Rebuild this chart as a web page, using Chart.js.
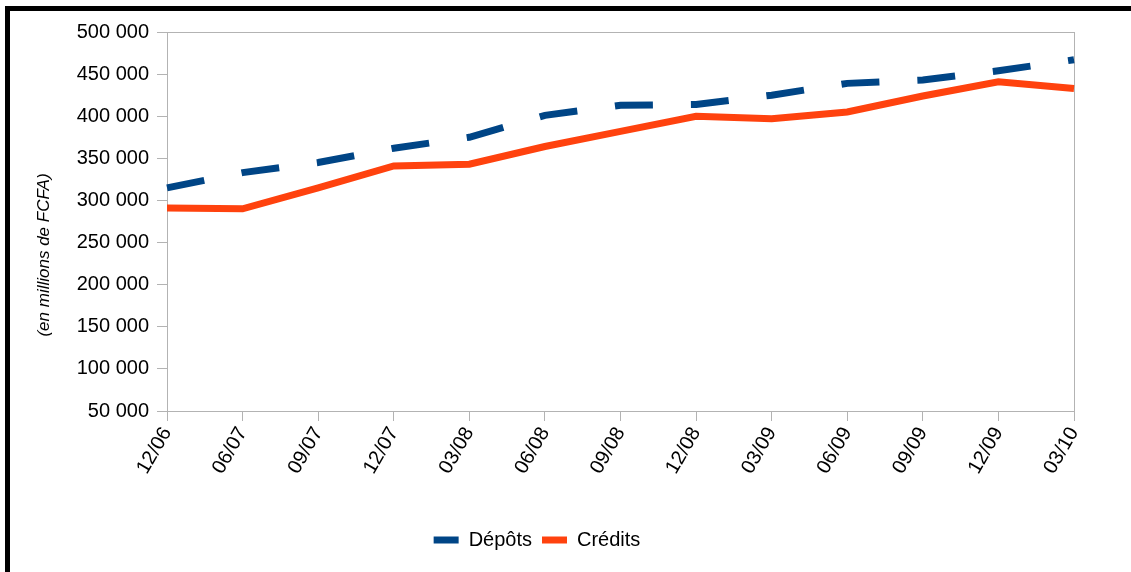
<!DOCTYPE html>
<html>
<head>
<meta charset="utf-8">
<script src="https://cdn.jsdelivr.net/npm/chart.js@4"></script>
<style>
  html, body { margin: 0; padding: 0; background: #fff; }
  #wrap { position: relative; width: 1131px; height: 572px; overflow: hidden; }
  #frame { position: absolute; left: 5px; top: 6px; right: 0; bottom: 0; border-left: 5px solid #000; border-top: 5px solid #000; pointer-events: none; }
</style>
</head>
<body>
<div id="wrap">
  <canvas id="graph" width="1131" height="572"></canvas>
  <div id="frame"></div>
</div>
<script>
const periodes = ['12/06', '06/07', '09/07', '12/07', '03/08', '06/08', '09/08', '12/08', '03/09', '06/09', '09/09', '12/09', '03/10'];
const depots = [315000, 333000, 345000, 362000, 375000, 401000, 413000, 414000, 425000, 439000, 443000, 454000, 467000];
const credits = [291000, 290000, 315000, 341000, 343000, 364000, 382000, 400000, 397000, 405000, 424000, 441000, 433000];
const yMin = 50000;
const yMax = 500000;
const yStep = 50000;
const yTitre = '(en millions de FCFA)';

const FONT = "'Liberation Sans', Arial, sans-serif";
const GRIS = '#b3b3b3';

function milliers(v) {
  return String(v).replace(/\B(?=(\d{3})+(?!\d))/g, ' ');
}

// titre de l'axe Y, un peu plus bas que le centre comme dans l'original
const titreY = {
  id: 'titreY',
  afterDraw(chart) {
    const ctx = chart.ctx;
    ctx.save();
    ctx.translate(44, 255);
    ctx.rotate(-Math.PI / 2);
    ctx.font = 'italic 17px ' + FONT;
    ctx.fillStyle = '#000';
    ctx.textAlign = 'center';
    ctx.textBaseline = 'middle';
    ctx.fillText(yTitre, 0, 0);
    ctx.restore();
  }
};

new Chart(document.getElementById('graph'), {
  type: 'line',
  data: {
    labels: periodes,
    datasets: [
      {
        label: 'Dépôts',
        data: depots,
        borderColor: '#004586',
        backgroundColor: '#004586',
        borderWidth: 7,
        borderDash: [38, 38],
        borderCapStyle: 'butt',
        pointRadius: 0,
        tension: 0
      },
      {
        label: 'Crédits',
        data: credits,
        borderColor: '#ff420e',
        backgroundColor: '#ff420e',
        borderWidth: 7,
        pointRadius: 0,
        tension: 0
      }
    ]
  },
  options: {
    responsive: false,
    animation: false,
    layout: { padding: { left: 0, top: 32, right: 57, bottom: 12 } },
    plugins: {
      tooltip: { enabled: false },
      legend: {
        position: 'bottom',
        labels: {
          boxWidth: 25,
          boxHeight: 7,
          padding: 10,
          color: '#000',
          font: { family: FONT, size: 20 },
          // cases pleines, sans tirets, comme dans l'original
          generateLabels(chart) {
            return chart.data.datasets.map((ds, i) => ({
              text: ds.label,
              fillStyle: ds.borderColor,
              strokeStyle: ds.borderColor,
              lineWidth: 0,
              lineDash: [],
              hidden: !chart.isDatasetVisible(i),
              datasetIndex: i
            }));
          }
        }
      }
    },
    scales: {
      x: {
        afterFit(scale) { scale.height = 109; },
        border: { color: GRIS, width: 1 },
        grid: {
          color: ctx => ctx.index === periodes.length - 1 ? GRIS : 'rgba(0,0,0,0)',
          tickColor: GRIS,
          tickLength: 10,
          drawOnChartArea: true
        },
        ticks: {
          color: '#000',
          font: { family: FONT, size: 20 },
          minRotation: 60,
          maxRotation: 60,
          autoSkip: false,
          padding: 2
        }
      },
      y: {
        min: yMin,
        max: yMax,
        afterFit(scale) { scale.width = 167; },
        border: { color: GRIS, width: 1 },
        grid: {
          color: ctx => ctx.tick && ctx.tick.value === yMax ? GRIS : 'rgba(0,0,0,0)',
          tickColor: GRIS,
          tickLength: 10
        },
        ticks: {
          stepSize: yStep,
          color: '#000',
          font: { family: FONT, size: 20 },
          padding: 8,
          callback: v => milliers(v)
        }
      }
    }
  },
  plugins: [titreY]
});
</script>
</body>
</html>
